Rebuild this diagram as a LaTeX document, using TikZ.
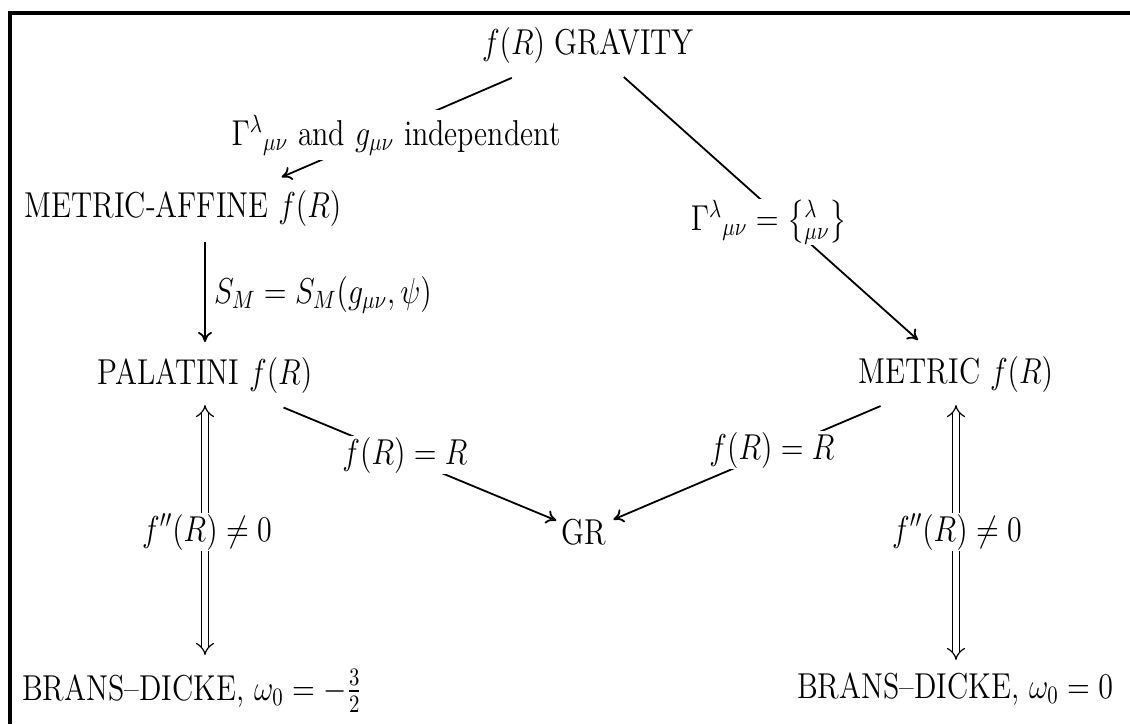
\documentclass[tikz,border=0pt]{standalone}
\usepackage{amsmath}
\usepackage{graphicx}
\usetikzlibrary{arrows.meta}
\newcommand{\vs}[1]{\scalebox{1.04}[1.25]{#1}}
\begin{document}
\begin{tikzpicture}[x=0.5pt,y=-0.5pt,
  txt/.style={font=\fontsize{14.4}{17}\selectfont, inner sep=2pt},
  lab/.style={txt, fill=white, inner sep=0.5pt},
  conn/.style={line width=0.9pt, -{Computer Modern Rightarrow[length=5pt,width=7pt]}},
  eqv/.style={line width=0.6pt, double distance=2.6pt, {Implies}-{Implies}},
  frame/.style={line width=1.6pt}]
\useasboundingbox (0,0) rectangle (1130,724);
\draw[frame] (10,724) -- (10,13) -- (1130,13);
% main nodes
\node[txt] (grav) at (588,45) {\vs{$f(R)$ GRAVITY}};
\node[txt] (affine) at (183,208) {\vs{METRIC-AFFINE $f(R)$}};
\node[txt] (pal) at (205,375) {\vs{PALATINI $f(R)$}};
\node[txt] (met) at (956,374) {\vs{METRIC $f(R)$}};
\node[txt] (gr) at (584,532) {\vs{GR}};
\node[txt, anchor=base] (bdl) at (192,700) {\vs{BRANS--DICKE, $\omega_0=-\frac{3}{2}$}};
\node[txt, anchor=base] (bdr) at (955,698) {\vs{BRANS--DICKE, $\omega_0=0$}};
% connectors
\draw[conn, shorten <=41.5pt, shorten >=39pt] (grav.center) -- ([xshift=13.5pt]affine.center);
\draw[conn, shorten <=24pt, shorten >=25.5pt] (grav.center) -- (met.center);
\draw[conn, shorten <=17pt, shorten >=16.5pt] ([xshift=11pt]affine.center) -- (pal.center);
\draw[conn, shorten <=42.5pt, shorten >=15pt] (pal.center) -- (gr.center);
\draw[conn, shorten <=41pt, shorten >=16pt] (met.center) -- (gr.center);
\draw[eqv, shorten <=15pt, shorten >=22.5pt] (pal.center) -- (pal.center |- bdl.base);
\draw[eqv, shorten <=15.5pt, shorten >=19pt] (met.center) -- (met.center |- bdr.base);
% labels
\node[lab, inner sep=2.5pt] (indep) at (396,135) {\vs{$\Gamma^{\lambda}{}_{\mu\nu}$ and $g_{\mu\nu}$ independent}};
\node[lab] (christ) at (769,222) {\vs{$\Gamma^{\lambda}{}_{\mu\nu}=\bigl\{{}^{\lambda}_{\mu\nu}\bigr\}$}};
\node[txt] (sm) at (323,295) {\vs{$S_M=S_M(g_{\mu\nu},\psi)$}};
\node[lab] (fRl) at (405,455) {\vs{$f(R)=R$}};
\node[lab] (fRr) at (772,450) {\vs{$f(R)=R$}};
\node[lab] (fppl) at (207,532) {\vs{$f''(R)\neq 0$}};
\node[lab] (fppr) at (957,532) {\vs{$f''(R)\neq 0$}};
\end{tikzpicture}
\end{document}
